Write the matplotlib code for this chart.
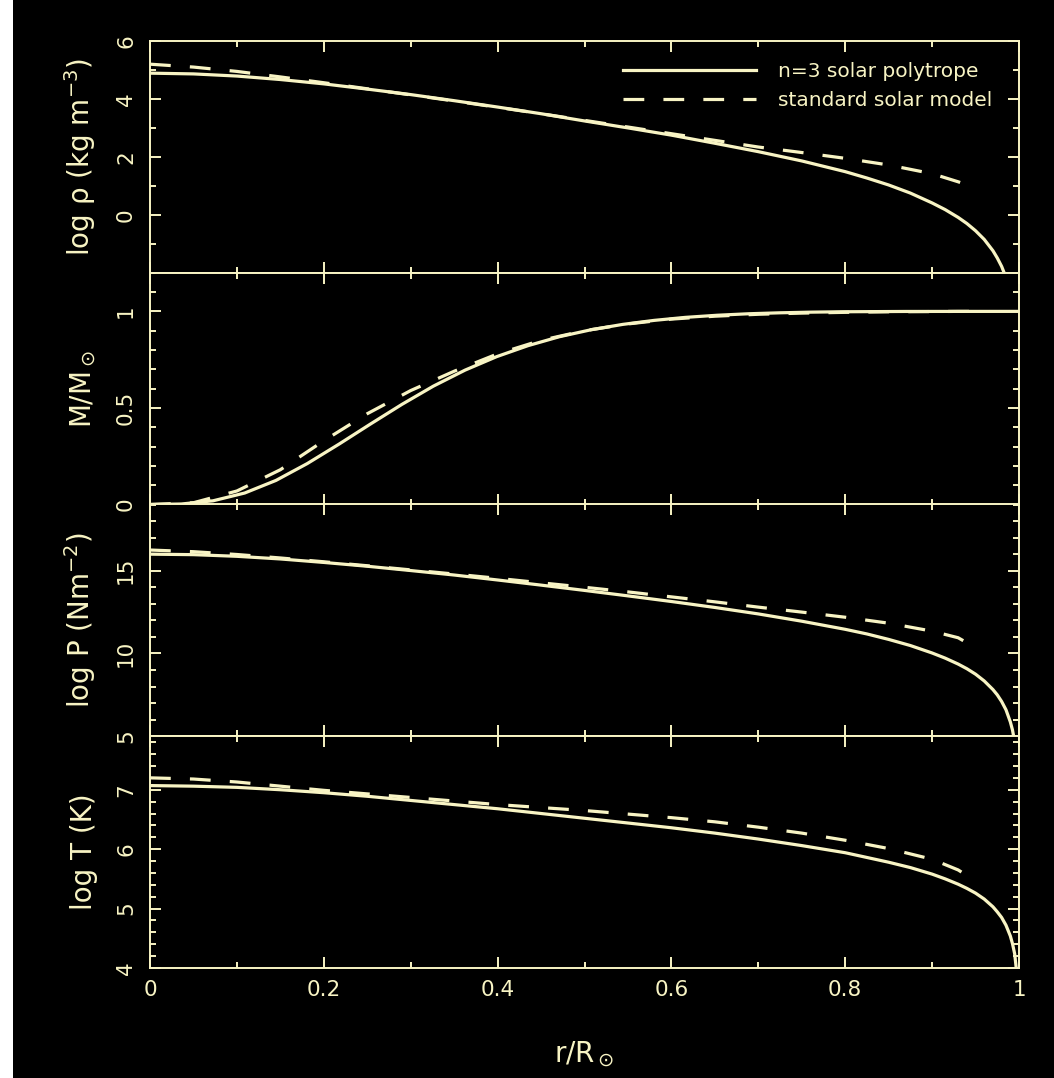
import matplotlib
matplotlib.use('Agg')
import matplotlib.pyplot as plt
from matplotlib import ticker
from matplotlib.patches import Rectangle

fg = '#F8F4C4'

# n=3 polytrope (solid)
r_poly = [0, 0.05, 0.1, 0.15, 0.2, 0.25, 0.3, 0.35, 0.4, 0.45, 0.5, 0.55, 0.6, 0.65,
          0.7, 0.75, 0.8, 0.825, 0.85, 0.875, 0.9, 0.915, 0.93, 0.94, 0.95, 0.96, 0.97,
          0.975, 0.98, 0.985, 0.99, 0.9925, 0.995, 0.998, 0.999]
rho_poly = [4.89, 4.864, 4.79, 4.67, 4.52, 4.34, 4.15, 3.94, 3.72, 3.49, 3.24, 3.00, 2.75, 2.47,
            2.18, 1.86, 1.49, 1.27, 1.03, 0.75, 0.41, 0.18, -0.09, -0.30, -0.55, -0.85, -1.24,
            -1.49, -1.78, -2.16, -2.71, -3.08, -3.61, -4.81, -5.71]
P_poly = [16.00, 15.97, 15.87, 15.71, 15.50, 15.27, 15.01, 14.74, 14.44, 14.13, 13.81, 13.48, 13.14, 12.78,
          12.39, 11.95, 11.46, 11.18, 10.85, 10.48, 10.03, 9.72, 9.36, 9.08, 8.75, 8.34, 7.82,
          7.50, 7.10, 6.60, 5.87, 5.38, 4.66, 3.07, 1.87]
T_poly = [7.07, 7.06, 7.04, 7.00, 6.95, 6.89, 6.82, 6.75, 6.68, 6.60, 6.52, 6.44, 6.36, 6.27,
          6.17, 6.06, 5.94, 5.86, 5.78, 5.69, 5.58, 5.50, 5.41, 5.34, 5.26, 5.16, 5.03,
          4.945, 4.85, 4.72, 4.54, 4.41, 4.24, 3.84, 3.54]
r_mass_poly = [0, 0.036, 0.0725, 0.109, 0.145, 0.181, 0.2175, 0.254, 0.29, 0.326, 0.3625, 0.399, 0.435,
               0.471, 0.5075, 0.544, 0.58, 0.616, 0.6525, 0.689, 0.725, 0.761, 0.7975, 0.87, 0.9425, 1.0]
m_poly = [0, 0.0026, 0.0191, 0.0595, 0.1248, 0.212, 0.3126, 0.4175, 0.5187, 0.6127, 0.6957, 0.7657, 0.8225,
          0.8687, 0.9048, 0.9326, 0.9533, 0.9689, 0.9799, 0.9877, 0.9926, 0.9960, 0.998, 0.9996, 0.9999, 1.0]

# standard solar model (dashed)
r_ssm = [0, 0.05, 0.1, 0.15, 0.2, 0.25, 0.3, 0.35, 0.4, 0.45, 0.5, 0.55, 0.6, 0.65,
         0.7, 0.75, 0.8, 0.85, 0.9, 0.93, 0.945]
rho_ssm = [5.20, 5.10, 4.95, 4.76, 4.56, 4.35, 4.14, 3.93, 3.71, 3.49, 3.26, 3.03, 2.80, 2.57,
           2.34, 2.15, 1.95, 1.72, 1.42, 1.14, 0.98]
m_ssm = [0, 0.009, 0.07, 0.18, 0.33, 0.47, 0.59, 0.69, 0.78, 0.85, 0.90, 0.935, 0.96, 0.975,
         0.985, 0.991, 0.995, 0.998, 0.999, 1.0, 1.0]
P_ssm = [16.25, 16.15, 15.98, 15.77, 15.54, 15.30, 15.05, 14.80, 14.54, 14.27, 14.00, 13.72, 13.42, 13.12,
         12.80, 12.50, 12.19, 11.83, 11.35, 10.95, 10.50]
T_ssm = [7.20, 7.18, 7.13, 7.06, 6.99, 6.93, 6.87, 6.81, 6.75, 6.70, 6.65, 6.59, 6.53, 6.46,
         6.37, 6.27, 6.15, 6.01, 5.83, 5.65, 5.51]

ylabels = ['log $\\rho$ (kg m$^{-3}$)', 'M/M$_\\odot$', 'log P (Nm$^{-2}$)', 'log T (K)']
ylims = [(-2, 6), (0, 1.2), (5, 19), (4, 7.9)]
ymajor = [2, 0.5, 5, 1]
yminor = [1, 0.1, 1, 0.2]

plt.rcParams['mathtext.fontset'] = 'dejavusans'
plt.rcParams['mathtext.default'] = 'regular'

fig = plt.figure(figsize=(10.54, 10.78), dpi=100, facecolor='black')
fig.patches.append(Rectangle((0, 0), 13 / 1054, 1, transform=fig.transFigure,
                             facecolor='white', edgecolor='none'))
gs = fig.add_gridspec(4, 1, left=150 / 1054, right=1019 / 1054,
                      bottom=1 - 968 / 1078, top=1 - 41 / 1078, hspace=0)

axes = []
for i in range(4):
    ax = fig.add_subplot(gs[i], sharex=axes[0] if axes else None)
    axes.append(ax)

series = [(r_poly, rho_poly, r_ssm, rho_ssm),
          (r_mass_poly, m_poly, r_ssm, m_ssm),
          (r_poly, P_poly, r_ssm, P_ssm),
          (r_poly, T_poly, r_ssm, T_ssm)]

for i, ax in enumerate(axes):
    ax.set_facecolor('black')
    rp, yp, rs, ys = series[i]
    ax.plot(rp, yp, color=fg, lw=2.3, label='n=3 solar polytrope')
    ax.plot(rs, ys, color=fg, lw=2.3, dashes=(6.5, 6), label='standard solar model')
    ax.set_xlim(0, 1)
    ax.set_ylim(*ylims[i])
    ax.xaxis.set_major_locator(ticker.MultipleLocator(0.2))
    ax.xaxis.set_minor_locator(ticker.MultipleLocator(0.1))
    ax.yaxis.set_major_locator(ticker.MultipleLocator(ymajor[i]))
    ax.yaxis.set_minor_locator(ticker.MultipleLocator(yminor[i]))
    ax.xaxis.set_major_formatter(ticker.FormatStrFormatter('%g'))
    ax.yaxis.set_major_formatter(ticker.FormatStrFormatter('%g'))
    for s in ax.spines.values():
        s.set_color(fg)
        s.set_linewidth(1.4)
    ax.tick_params(which='both', direction='in', top=True, right=True,
                   colors=fg, width=1.4, labelsize=15.5)
    ax.tick_params(which='major', length=8)
    ax.tick_params(which='minor', length=4.3)
    ax.tick_params(axis='y', labelrotation=90, pad=10)
    ax.tick_params(axis='x', pad=9)
    for lab in ax.get_yticklabels():
        lab.set_va('center')
    if i < 3:
        ax.tick_params(axis='x', labelbottom=False)
    ax.set_ylabel(ylabels[i], color=fg, fontsize=20)
    ax.yaxis.set_label_coords(-0.06, 0.5)

# no -2 label on the top panel
axes[0].yaxis.set_major_locator(ticker.FixedLocator([0, 2, 4, 6]))

axes[3].set_xlabel('r/R$_\\odot$', color=fg, fontsize=20)
axes[3].xaxis.set_label_coords(0.5, -0.31)

leg = axes[0].legend(loc='upper right', bbox_to_anchor=(0.969, 0.911), frameon=False,
                     fontsize=14.5, handlelength=6.6, handletextpad=1.1,
                     labelspacing=0.5, borderpad=0, borderaxespad=0)
for t in leg.get_texts():
    t.set_color(fg)

fig.savefig('out.png', dpi=100, facecolor=fig.get_facecolor())
